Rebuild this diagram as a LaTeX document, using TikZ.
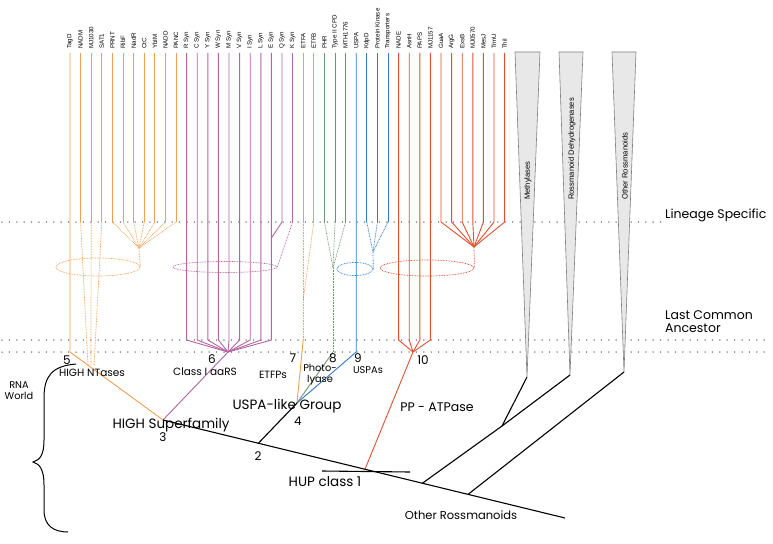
\documentclass[tikz,border=0pt]{standalone}
\usepackage{fontspec}
\setmainfont{Poppins}
\newfontfamily\lblfont{Liberation Sans}
\usetikzlibrary{shapes.geometric}
\definecolor{cOr}{RGB}{240,160,80}
\definecolor{cPu}{RGB}{180,100,160}
\definecolor{cGr}{RGB}{110,150,110}
\definecolor{cBl}{RGB}{50,120,200}
\definecolor{cRe}{RGB}{225,80,50}
\definecolor{wedgefill}{RGB}{232,232,232}
\definecolor{dotgray}{RGB}{90,90,90}
\begin{document}
\begin{tikzpicture}[x=1pt,y=-1pt,
  toplab/.style={font=\lblfont\fontsize{6.2}{6.5}\selectfont, rotate=90, anchor=west, inner sep=0pt},
  wedgelab/.style={font=\lblfont\fontsize{7.6}{8}\selectfont, rotate=90, anchor=west, inner sep=0pt},
  txt/.style={font=\fontsize{10.5}{11}\selectfont, inner sep=0pt},
  smalltxt/.style={font=\fontsize{9.8}{11}\selectfont, inner sep=0pt},
  bigtxt/.style={font=\fontsize{12.5}{13}\selectfont, inner sep=0pt},
  num/.style={font=\fontsize{12}{12}\selectfont, inner sep=0pt},
  col/.style={line width=0.9pt},
  fine/.style={line width=0.7pt, dash pattern=on 0.8pt off 0.8pt},
  ellip/.style={ellipse, draw, fine, inner sep=0pt},
  blk/.style={line width=1.1pt, black},
  lvl/.style={dotgray, line width=1.5pt, dash pattern=on 0pt off 7.4pt, line cap=round},
  wedge/.style={fill=wedgefill, draw=gray, line width=0.6pt}
]
\useasboundingbox (0,0) rectangle (773,543);

% level lines
\coordinate (lsL) at (2,222); \coordinate (lsR) at (662,222);
\coordinate (lcaL) at (2,340); \coordinate (lcaR) at (766,340);
\coordinate (lcbL) at (2,352); \coordinate (lcbR) at (766,352);
\draw[lvl] (lsL) -- (lsR);
\draw[lvl] (lcaL) -- (lcaR);
\draw[lvl] (lcbL) -- (lcbR);

% top labels
\foreach \i/\t in {0/TagD,1/NADM,2/MJ1030,3/SAT1,4/PRNT,5/RibF,6/NadR,7/CtC,8/YbIM,9/NADD,10/PANC,
  11/R Syn,12/C Syn,13/Y Syn,14/W Syn,15/M Syn,16/V Syn,17/I Syn,18/L Syn,19/E Syn,20/Q Syn,21/K Syn,
  22/ETFA,23/ETFB,24/PHR,25/Type II CPD,26/MTH1776,27/USPA,28/KdpD,29/Protein Kinase,30/Transporters,
  31/NADE,32/AsnH,33/PAPS,34/MJ1157,35/GuaA,36/ArgG,37/ExsB,38/MJ0570,39/MesJ,40/TrmU,41/ThiI}{
  \node[toplab] (l\i) at ({70+10.6*\i},49) {\t};
  \coordinate (t\i) at ({70+10.6*\i},53);
  \coordinate (s\i) at ({70+10.6*\i},222);
  \coordinate (c\i) at ({70+10.6*\i},340);
}

% key points
\coordinate (n5) at (70,352);
\coordinate (n3) at (163,420);
\coordinate (n6) at (228,352);
\coordinate (n4) at (297,403);
\coordinate (n2) at (258,443.6);
\coordinate (n10) at (413,352);
\coordinate (hup) at (365,469.2);
\coordinate (mEnd) at (565,518);

% ellipses
\node[ellip, draw=cOr, minimum width=84, minimum height=18] (oell) at (98,267) {};
\node[ellip, draw=cPu, minimum width=104, minimum height=11] (pell) at (225,267) {};
\node[ellip, draw=cBl, minimum width=36, minimum height=13] (bell) at (355,269) {};
\node[ellip, draw=cRe, minimum width=94, minimum height=16] (rell) at (427,268) {};

% orange HIGH NTases
\draw[col, cOr] (t0) -- (n5) -- (n3);
\coordinate (o1) at (88,366); \coordinate (o2) at (91,366); \coordinate (o3) at (94,366);
\foreach \i in {1,2,3}{
  \draw[col, cOr] (t\i) -- (s\i);
  \draw[fine, cOr] (s\i) -- (o\i);
}
\coordinate (ofan) at (139,248);
\foreach \i in {4,...,10}{
  \draw[col, cOr] (t\i) -- (s\i);
  \draw[fine, cOr] (s\i) -- (ofan);
}
\draw[fine, cOr] (ofan) -- (oell.east);

% purple class I aaRS
\foreach \i in {11,...,19}{
  \draw[col, cPu] (t\i) -- (c\i) -- (n6);
}
\coordinate (pj) at (271.4,238);
\draw[col, cPu] (t20) -- (s20) -- (pj);
\draw[col, cPu] (t21) -- (s21);
\draw[fine, cPu] (s21) -- (pell.east);
\draw[col, cPu] (n6) -- (n3);

% ETFPs
\coordinate (ej) at (303.2,300);
\draw[col, cOr] (t22) -- (s22);
\draw[fine, cOr] (s22) -- (c22);
\draw[col, cOr] (c22) -- (n4);
\draw[col, cOr] (t23) -- (s23);
\draw[fine, cOr] (s23) -- (ej);

% green photolyase
\coordinate (gfan) at (333,268);
\coordinate (gb) at (333,352);
\foreach \i in {24,25,26}{
  \draw[col, cGr] (t\i) -- (s\i);
  \draw[fine, cGr] (s\i) -- (gfan);
}
\draw[fine, cGr] (gfan) -- (gb);
\draw[col, cGr] (gb) -- (n4);

% blue USPA
\coordinate (bb) at (356.2,352);
\draw[col, cBl] (t27) -- (bb) -- (n4);
\coordinate (bfan) at (373,252);
\foreach \i in {28,29,30}{
  \draw[col, cBl] (t\i) -- (s\i);
  \draw[fine, cBl] (s\i) -- (bfan);
}
\draw[fine, cBl] (bfan) -- (bell.east);

% red PP-ATPase
\foreach \i in {31,...,34}{
  \draw[col, cRe] (t\i) -- (c\i) -- (n10);
}
\coordinate (rfan) at (474,247);
\foreach \i in {35,...,41}{
  \draw[col, cRe] (t\i) -- (s\i) -- (rfan);
}
\draw[fine, cRe] (rfan) -- (rell.east);
\draw[col, cRe] (n10) -- (hup);

% wedges
\coordinate (mt) at (527,377);
\coordinate (rt) at (570,375);
\coordinate (ot) at (624,372);
\draw[wedge] (515,52) -- (540,52) -- (mt) -- cycle;
\draw[wedge] (559,52) -- (583,52) -- (rt) -- cycle;
\draw[wedge] (612,52) -- (636,52) -- (ot) -- cycle;
\node[wedgelab] (wm) at (528,200) {Methylases};
\node[wedgelab] (wr) at (572,200) {Rossmanoid Dehydrogenases};
\node[wedgelab] (wo) at (625,200) {Other Rossmanoids};

% black tree
\coordinate (j1) at (502,426);
\coordinate (m1) at (422,483.5);
\coordinate (m2) at (468,494.4);
\coordinate (hupL) at (322,471);
\coordinate (hupR) at (410,472);
\draw[blk] (n3) -- (mEnd);
\draw[blk] (n2) -- (n4);
\draw[blk] (hupL) -- (hupR);
\draw[blk] (mt) -- (j1);
\draw[blk] (rt) -- (j1);
\draw[blk] (j1) -- (m1);
\draw[blk] (ot) -- (m2);

% brace
\coordinate (brT) at (76,364);
\coordinate (brM) at (33,462);
\coordinate (brB) at (68,532);
\draw[line width=1pt] (brT) .. controls (52,366) and (44,376) .. (44,398) -- (44,440)
  .. controls (44,455) and (40,460) .. (brM) .. controls (40,464) and (44,470) .. (44,485)
  -- (44,510) .. controls (44,526) and (54,532) .. (brB);

% labels
\node[smalltxt] (rna) at (19,391) [align=center] {RNA\\World};
\node[bigtxt, anchor=west] (lsp) at (665,215) {Lineage Specific};
\node[bigtxt, anchor=west, align=left] (lca) at (665,322) {Last Common\\ Ancestor};

\node[num] (k5) at (67,360) {5};
\node[txt] (t5) at (92,373) {HIGH NTases};
\node[num] (k6) at (212,359) {6};
\node[txt] (t6) at (205,372) {Class I aaRS};
\node[txt] (t7) at (273,375) {ETFPs};
\node[num] (k7) at (293,358) {7};
\node[num] (k8) at (333,358) {8};
\node[smalltxt, align=center] (t8) at (320,375) {Photo-\\lyase};
\node[num] (k9) at (358,358) {9};
\node[smalltxt] (t9) at (368,370) {USPAs};
\node[num] (k10) at (423,360) {10};
\node[font=\fontsize{13.5}{14}\selectfont, inner sep=0pt] (t4) at (287,406) {USPA-like Group};
\node[num] (k4) at (298,421) {4};
\node[font=\fontsize{13.5}{14}\selectfont, inner sep=0pt] (t3) at (171,425) {HIGH Superfamily};
\node[num] (k3) at (163,437) {3};
\node[num] (k2) at (258,456) {2};
\node[font=\fontsize{13.5}{14}\selectfont, inner sep=0pt] (thup) at (325,482) {HUP class 1};
\node[bigtxt] (tpp) at (437,407) {PP - ATPase};
\node[font=\fontsize{11.5}{12}\selectfont, inner sep=0pt] (tor) at (461,515) {Other Rossmanoids};
\end{tikzpicture}
\end{document}
